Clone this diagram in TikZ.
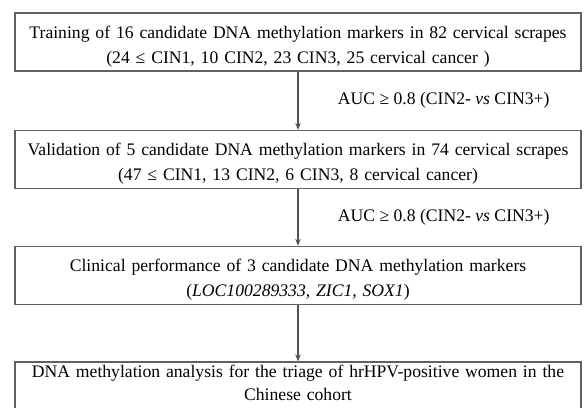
\documentclass[tikz,border=0pt]{standalone}
\usepackage{fontspec}
\setmainfont{Liberation Serif}
\usetikzlibrary{arrows.meta}
\newcommand{\firstline}{\rule{0pt}{21bp}}
\newcommand{\lastline}{\rule[-12bp]{0pt}{1bp}}

\begin{document}
\begin{tikzpicture}[x=1bp,y=1bp,
  stepbox/.style={draw=black!62,line width=1.3bp,minimum width=566bp,minimum height=58bp,text width=562bp,align=center,inner sep=0pt,font=\fontsize{17.7}{25}\selectfont},
  flow/.style={-{Stealth[length=7bp,width=5.5bp]},draw=black!68,line width=1.1bp},
  crit/.style={font=\fontsize{17.7}{20}\selectfont}]
\useasboundingbox (0,0) rectangle (586,-407);
\node (train) at (298,-42)[stepbox] {\firstline Training of 16 candidate DNA methylation markers in 82 cervical scrapes\\(24 ≤ CIN1, 10 CIN2, 23 CIN3, 25 cervical cancer )};
\node (valid) at (298,-159.5)[stepbox] {\firstline Validation of 5 candidate DNA methylation markers in 74 cervical scrapes\\(47 ≤ CIN1, 13 CIN2, 6 CIN3, 8 cervical cancer)};
\node (clin) at (298,-275.5)[stepbox] {\firstline Clinical performance of 3 candidate DNA methylation markers\\(\textit{LOC100289333, ZIC1, SOX1})};
\node (triage) at (298,-388.5)[stepbox,minimum height=53bp,font=\fontsize{17.7}{23}\selectfont] {DNA methylation analysis for the triage of hrHPV-positive women in the\\Chinese cohort\lastline};
\draw [flow] (train) -- node[midway,right=36bp,crit] {AUC ≥ 0.8 (CIN2- \textit{vs} CIN3+)} (valid);
\draw [flow] (valid) -- node[midway,right=36bp,crit] {AUC ≥ 0.8 (CIN2- \textit{vs} CIN3+)} (clin);
\draw [flow] (clin) -- (triage);
\end{tikzpicture}
\end{document}
